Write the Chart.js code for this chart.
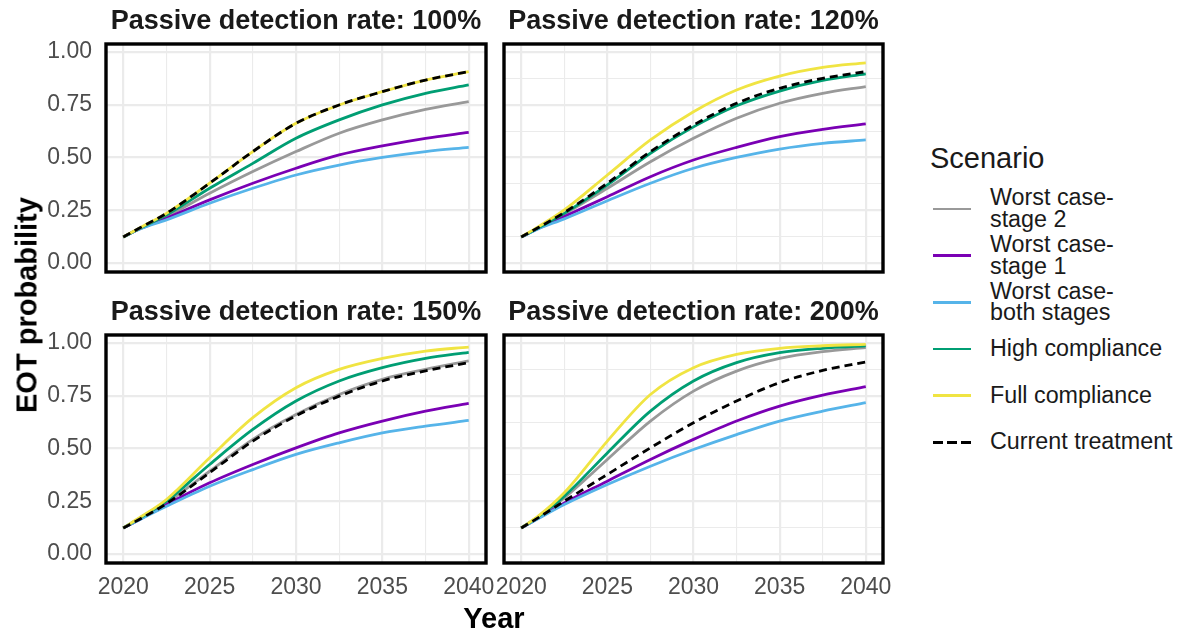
<!DOCTYPE html>
<html>
<head>
<meta charset="utf-8">
<script src="https://cdn.jsdelivr.net/npm/chart.js@4.4.1/dist/chart.umd.min.js"></script>
<style>
  body { margin: 0; background: #fff; font-family: "Liberation Sans", Arial, sans-serif; }
  #wrap { position: relative; width: 1184px; height: 634px; overflow: hidden; }
  #wrap canvas { position: absolute; }
  .strip { position: absolute; font-weight: bold; font-size: 27px; line-height: 1; color: #1a1a1a; transform: translateX(-50%); white-space: nowrap; }
  .axis-title { position: absolute; font-weight: bold; font-size: 29px; line-height: 1; color: #000; white-space: nowrap; }
  #legend { position: absolute; left: 930px; top: 0; color: #1a1a1a; }
  #legend .ttl { position: absolute; left: 0; top: 144px; font-size: 29px; line-height: 1; white-space: nowrap; }
  #legend .item { position: absolute; left: 3px; height: 46.7px; display: flex; align-items: center; white-space: nowrap; }
  #legend .key { width: 38px; height: 2.8px; margin-right: 19px; }
  #legend .lab { font-size: 23.3px; line-height: 21.7px; }
</style>
</head>
<body>
<div id="wrap">
  <div id="legend"><div class="ttl">Scenario</div></div>
</div>
<script>
// x positions of the read-off points, and tick marks for the grid
const years = [2020, 2021, 2022.5, 2025, 2027.5, 2030, 2032.5, 2035, 2037.5, 2040];
const xTicks = [2020, 2022.5, 2025, 2027.5, 2030, 2032.5, 2035, 2037.5, 2040];
const yTicks = [0, 0.125, 0.25, 0.375, 0.5, 0.625, 0.75, 0.875, 1];

const scenarios = ['Worst case-\nstage 2', 'Worst case-\nstage 1', 'Worst case-\nboth stages',
                   'High compliance', 'Full compliance', 'Current treatment'];
const colours = ['#999999', '#7a00b4', '#56b4e9', '#009e73', '#f0e442', '#000000'];
const panelTitles = ['Passive detection rate: 100%', 'Passive detection rate: 120%',
                     'Passive detection rate: 150%', 'Passive detection rate: 200%'];

// passive detection rate 100%
const worst2_100  = [0.123, 0.165, 0.220, 0.330, 0.433, 0.528, 0.615, 0.678, 0.728, 0.765];
const worst1_100  = [0.123, 0.163, 0.212, 0.299, 0.378, 0.449, 0.512, 0.555, 0.591, 0.619];
const worstB_100  = [0.123, 0.162, 0.204, 0.283, 0.354, 0.417, 0.464, 0.500, 0.528, 0.548];
const high_100    = [0.123, 0.166, 0.227, 0.354, 0.472, 0.591, 0.678, 0.749, 0.804, 0.844];
const full_100    = [0.123, 0.168, 0.235, 0.378, 0.528, 0.662, 0.749, 0.812, 0.867, 0.907];
const current_100 = [0.123, 0.168, 0.235, 0.378, 0.528, 0.662, 0.749, 0.812, 0.867, 0.907];

// passive detection rate 120%
const worst2_120  = [0.123, 0.165, 0.232, 0.354, 0.480, 0.591, 0.686, 0.757, 0.804, 0.836];
const worst1_120  = [0.123, 0.163, 0.220, 0.314, 0.409, 0.488, 0.548, 0.599, 0.633, 0.659];
const worstB_120  = [0.123, 0.162, 0.209, 0.295, 0.378, 0.449, 0.500, 0.540, 0.567, 0.583];
const high_120    = [0.123, 0.167, 0.235, 0.370, 0.520, 0.645, 0.745, 0.815, 0.865, 0.896];
const full_120    = [0.123, 0.172, 0.251, 0.417, 0.583, 0.717, 0.820, 0.886, 0.927, 0.949];
const current_120 = [0.123, 0.168, 0.239, 0.378, 0.528, 0.654, 0.757, 0.828, 0.875, 0.907];

// passive detection rate 150%
const worst2_150  = [0.123, 0.168, 0.242, 0.392, 0.543, 0.661, 0.756, 0.828, 0.875, 0.915];
const worst1_150  = [0.123, 0.166, 0.234, 0.337, 0.424, 0.503, 0.574, 0.630, 0.677, 0.714];
const worstB_150  = [0.123, 0.165, 0.226, 0.321, 0.400, 0.472, 0.527, 0.574, 0.606, 0.633];
const high_150    = [0.123, 0.172, 0.250, 0.424, 0.590, 0.725, 0.820, 0.883, 0.927, 0.956];
const full_150    = [0.123, 0.175, 0.258, 0.456, 0.646, 0.788, 0.875, 0.927, 0.962, 0.981];
const current_150 = [0.123, 0.167, 0.238, 0.385, 0.535, 0.655, 0.748, 0.820, 0.868, 0.907];

// passive detection rate 200%
const worst2_200  = [0.123, 0.175, 0.266, 0.448, 0.630, 0.772, 0.867, 0.927, 0.959, 0.978];
const worst1_200  = [0.123, 0.170, 0.242, 0.345, 0.448, 0.543, 0.630, 0.701, 0.753, 0.793];
const worstB_200  = [0.123, 0.168, 0.234, 0.329, 0.416, 0.495, 0.566, 0.630, 0.677, 0.717];
const high_200    = [0.123, 0.177, 0.274, 0.479, 0.677, 0.820, 0.907, 0.954, 0.975, 0.986];
const full_200    = [0.123, 0.180, 0.290, 0.535, 0.756, 0.883, 0.946, 0.975, 0.987, 0.994];
const current_200 = [0.123, 0.172, 0.250, 0.377, 0.503, 0.622, 0.725, 0.812, 0.870, 0.910];

const panelSeries = [
  [worst2_100, worst1_100, worstB_100, high_100, full_100, current_100],
  [worst2_120, worst1_120, worstB_120, high_120, full_120, current_120],
  [worst2_150, worst1_150, worstB_150, high_150, full_150, current_150],
  [worst2_200, worst1_200, worstB_200, high_200, full_200, current_200]
];

// panel rectangles on the page: [left, top, right, bottom]
const boxes = [
  [106, 44, 486, 272], [504, 44, 883, 272],
  [106, 335, 486, 563], [504, 335, 883, 563]
];

// generous padding so tick-label overflow never nudges the plot area
const PAD = 44;
const wrap = document.getElementById('wrap');

const panelBorder = {
  id: 'panelBorder',
  afterDraw(chart) {
    const a = chart.chartArea, c = chart.ctx;
    c.save();
    c.strokeStyle = '#000';
    c.lineWidth = 3.4;
    c.strokeRect(a.left, a.top, a.right - a.left, a.bottom - a.top);
    c.restore();
  }
};

const isMajorY = v => Math.abs(v * 4 - Math.round(v * 4)) < 1e-9;
const isMajorX = v => Math.abs(v % 5) < 1e-9;
const tickFont = { family: 'Liberation Sans', size: 23 };

function makePanel(idx) {
  const [l, t, r, b] = boxes[idx];
  const showY = idx % 2 === 0;
  const showX = idx >= 2;
  const axisW = showY ? 100 : 0;
  const axisH = showX ? 40 : 0;

  const canvas = document.createElement('canvas');
  const w = (r - l) + axisW + 2 * PAD;
  const h = (b - t) + axisH + 2 * PAD;
  canvas.width = w;
  canvas.height = h;
  canvas.style.left = (l - axisW - PAD) + 'px';
  canvas.style.top = (t - PAD) + 'px';
  canvas.style.width = w + 'px';
  canvas.style.height = h + 'px';
  wrap.appendChild(canvas);

  const title = document.createElement('div');
  title.className = 'strip';
  title.textContent = panelTitles[idx];
  title.style.left = ((l + r) / 2) + 'px';
  title.style.top = (t - 37) + 'px';
  wrap.appendChild(title);

  const datasets = panelSeries[idx].map((arr, i) => ({
    label: scenarios[i],
    data: years.map((x, j) => ({ x: x, y: arr[j] })),
    borderColor: colours[i],
    borderWidth: 2.8,
    borderDash: i === 5 ? [8, 5] : [],
    pointRadius: 0,
    cubicInterpolationMode: 'monotone',
    fill: false,
    order: 5 - i
  }));

  new Chart(canvas, {
    type: 'line',
    data: { datasets: datasets },
    options: {
      responsive: false,
      animation: false,
      layout: { padding: PAD },
      plugins: { legend: { display: false }, tooltip: { enabled: false } },
      scales: {
        x: {
          type: 'linear',
          min: 2019,
          max: 2041,
          afterBuildTicks: s => { s.ticks = xTicks.map(v => ({ value: v })); },
          afterFit: s => { s.height = axisH; },
          border: { display: false },
          grid: {
            color: '#ebebeb',
            drawTicks: false,
            lineWidth: c => (c.tick && isMajorX(c.tick.value)) ? 2.2 : 1.1
          },
          ticks: {
            display: showX,
            autoSkip: false,
            maxRotation: 0,
            padding: 11,
            color: '#4d4d4d',
            font: tickFont,
            callback: v => isMajorX(v) ? String(v) : ''
          }
        },
        y: {
          type: 'linear',
          min: -0.043,
          max: 1.038,
          afterBuildTicks: s => { s.ticks = yTicks.map(v => ({ value: v })); },
          afterFit: s => { s.width = axisW; },
          border: { display: false },
          grid: {
            color: '#ebebeb',
            drawTicks: false,
            lineWidth: c => (c.tick && isMajorY(c.tick.value)) ? 2.2 : 1.1
          },
          ticks: {
            display: showY,
            padding: 14,
            color: '#4d4d4d',
            font: tickFont,
            callback: v => isMajorY(v) ? v.toFixed(2) : ''
          }
        }
      }
    },
    plugins: [panelBorder]
  });
}

for (let i = 0; i < 4; i++) makePanel(i);

// axis titles
const xTitle = document.createElement('div');
xTitle.className = 'axis-title';
xTitle.textContent = 'Year';
xTitle.style.left = '494px';
xTitle.style.top = '604px';
xTitle.style.transform = 'translateX(-50%)';
wrap.appendChild(xTitle);

const yTitle = document.createElement('div');
yTitle.className = 'axis-title';
yTitle.textContent = 'EOT probability';
yTitle.style.left = '27px';
yTitle.style.top = '305px';
yTitle.style.transform = 'translate(-50%, -50%) rotate(-90deg)';
wrap.appendChild(yTitle);

// legend keys and labels
const legend = document.getElementById('legend');
const keyCentres = [209, 255.7, 302.3, 349, 395.7, 442.3];
scenarios.forEach((name, i) => {
  const item = document.createElement('div');
  item.className = 'item';
  item.style.top = (keyCentres[i] - 23.35) + 'px';
  const key = document.createElement('div');
  key.className = 'key';
  if (i === 5) {
    key.style.background = 'repeating-linear-gradient(to right, #000 0 10px, transparent 10px 14px)';
  } else {
    key.style.background = colours[i];
  }
  const lab = document.createElement('div');
  lab.className = 'lab';
  lab.innerHTML = name.replace('\n', '<br>');
  item.appendChild(key);
  item.appendChild(lab);
  legend.appendChild(item);
});
</script>
</body>
</html>
